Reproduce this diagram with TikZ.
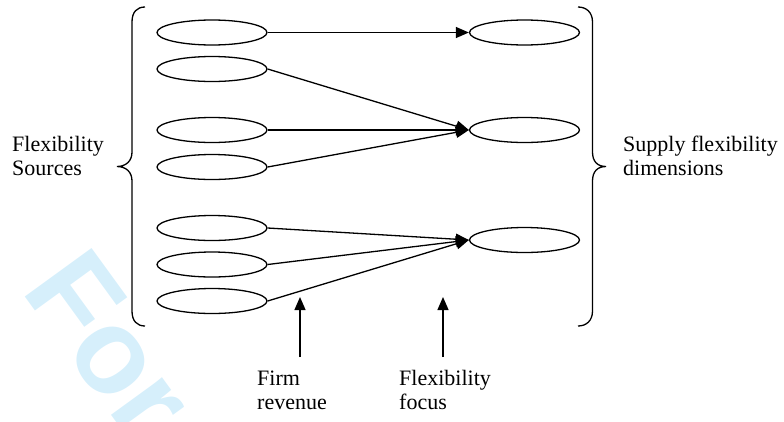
\documentclass[tikz,border=0pt]{standalone}
\usepackage{fontspec}
\setmainfont{Liberation Serif}
\newfontfamily\wmfont{Liberation Sans}
\usetikzlibrary{shapes.geometric,arrows.meta}
\definecolor{wmcyan}{RGB}{214,239,251}
\tikzset{
  oval/.style={draw, ellipse, line width=1.3pt, minimum width=110pt, minimum height=25pt, inner sep=0pt},
  conn/.style={line width=1.3pt, -{Triangle[length=13pt,width=11pt]}},
  brc/.style={line width=1.3pt},
  lbl/.style={anchor=base west, inner sep=0pt, align=left, font=\fontsize{22}{24}\selectfont},
}
\begin{document}
\begin{tikzpicture}[x=1pt,y=-1pt]
\useasboundingbox (0,0) rectangle (784,421);
\begin{scope}
\clip (0,0) rectangle (784,421);
\node[wmcyan, rotate=-54, anchor=base west, inner sep=0pt, font=\wmfont\bfseries\fontsize{120}{120}\selectfont] (wm) at (20,290) {For};
\end{scope}
% left ovals
\node[oval] (l1) at (212,32.5) {};
\node[oval] (l2) at (212,69) {};
\node[oval] (l3) at (212,130) {};
\node[oval] (l4) at (212,167) {};
\node[oval] (l5) at (212,228) {};
\node[oval] (l6) at (212,264.5) {};
\node[oval] (l7) at (212,301) {};
% right ovals
\node[oval] (r1) at (524.5,32.5) {};
\node[oval] (r2) at (524.5,130) {};
\node[oval] (r3) at (524.5,240) {};
% connectors
\draw[conn] (l1.east) -- (r1.west);
\draw[conn] (l2.east) -- (r2.west);
\draw[conn] (l3.east) -- (r2.west);
\draw[conn] (l4.east) -- (r2.west);
\draw[conn] (l5.east) -- (r3.west);
\draw[conn] (l6.east) -- (r3.west);
\draw[conn] (l7.east) -- (r3.west);
% braces
\draw[brc] (145,7) .. controls (137,7) and (132,12) .. (132,22) -- (132,152)
  .. controls (132,161) and (126,166.5) .. (117,166.5)
  .. controls (126,166.5) and (132,172) .. (132,181) -- (132,311)
  .. controls (132,321) and (137,326) .. (145,326);
\draw[brc] (578,7) .. controls (586,7) and (592.5,12) .. (592.5,22) -- (592.5,152)
  .. controls (592.5,161) and (597,166.5) .. (606,166.5)
  .. controls (597,166.5) and (592.5,172) .. (592.5,181) -- (592.5,311)
  .. controls (592.5,321) and (586,326) .. (578,326);
% side labels (anchor on the last line's baseline)
\node[lbl] (src) at (12,175.5) {Flexibility\\Sources};
\node[lbl] (dim) at (623,175.5) {Supply flexibility\\dimensions};
% bottom labels and arrows
\node[lbl] (rev) at (257,409.5) {Firm\\revenue};
\node[lbl] (foc) at (399,409.5) {Flexibility\\focus};
\coordinate (revtail) at (300,357);
\coordinate (revhead) at (300,297);
\coordinate (foctail) at (443,357);
\coordinate (fochead) at (443,297);
\draw[conn] (revtail) -- (revhead);
\draw[conn] (foctail) -- (fochead);
\end{tikzpicture}
\end{document}
